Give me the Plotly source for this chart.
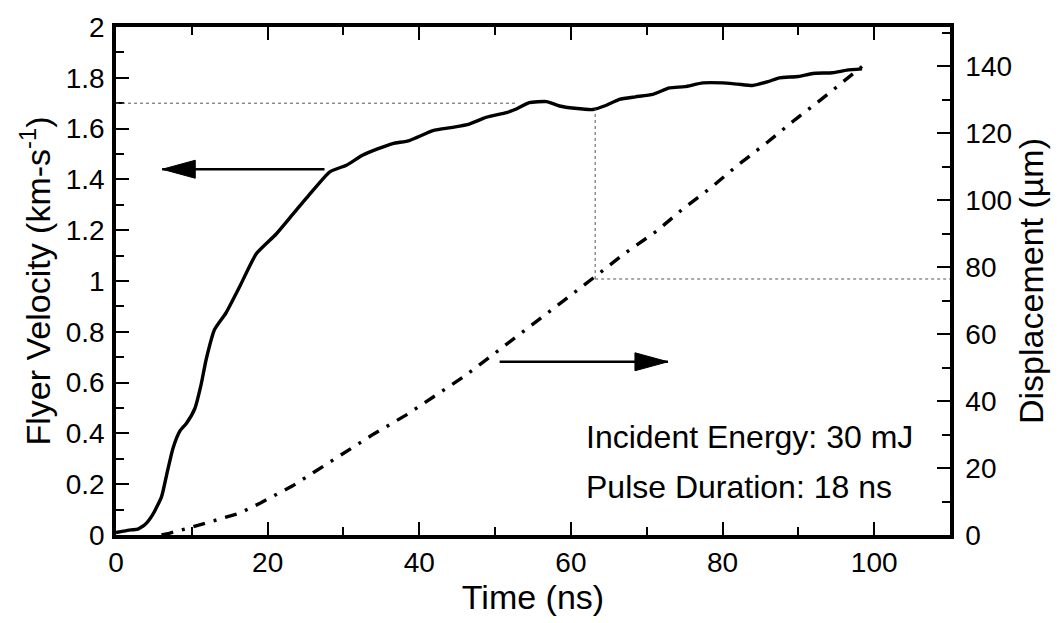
import numpy as np
import plotly.graph_objects as go

# ---------------- data ----------------
vel_t = [0, 1, 2, 2.7, 3.1, 3.8, 4.8, 6.0, 6.7, 7.5, 8.4, 9.3, 10.4, 11.2, 11.9,
         13.0, 14.5, 16.3, 18.5, 21.1, 23.3, 25.5, 28.2, 30.4, 32.5, 34.5, 36.5,
         38.7, 41.8, 44.4, 46.6, 48.8, 51.5, 52.8, 54.5, 56.8, 58.5, 60.5, 62.9,
         64.5, 66.4, 68.5, 70.8, 73.0, 75.0, 77.4, 80.0, 82.0, 84.0, 86.0, 87.5,
         90.0, 91.9, 94.5, 96.4, 98.4]
vel_v = [0.01, 0.015, 0.02, 0.022, 0.027, 0.04, 0.078, 0.15, 0.24, 0.34, 0.408,
         0.44, 0.498, 0.589, 0.692, 0.809, 0.874, 0.977, 1.107, 1.184, 1.262,
         1.34, 1.43, 1.456, 1.495, 1.52, 1.541, 1.553, 1.592, 1.605, 1.618,
         1.644, 1.663, 1.677, 1.702, 1.706, 1.689, 1.68, 1.675, 1.69, 1.715,
         1.725, 1.735, 1.76, 1.765, 1.78, 1.78, 1.775, 1.77, 1.785, 1.80, 1.805,
         1.817, 1.82, 1.83, 1.835]

disp_t = [6.0, 7.0, 10.1, 13.0, 16.3, 19.0, 21.6, 23.3, 26.0, 30.4, 34.0, 38.3,
          42.0, 45.8, 49.5, 53.2, 57.0, 60.3, 63.4, 67.0, 71.3, 74.7, 78.6,
          82.0, 86.0, 89.5, 93.1, 96.8, 98.4]
disp_d = [0.0, 0.5, 2.4, 4.2, 6.5, 9.5, 12.8, 14.7, 18.6, 25.1, 30.2, 35.9,
          41.5, 47.2, 53.5, 59.9, 66.2, 72.2, 77.6, 84.0, 90.8, 97.3, 104.0,
          110.5, 117.5, 124.0, 130.3, 137.0, 140.0]

x_ticks = [0, 20, 40, 60, 80, 100]
y_ticks = [0, 0.2, 0.4, 0.6, 0.8, 1.0, 1.2, 1.4, 1.6, 1.8, 2.0]
y_ticktext = ["0", "0.2", "0.4", "0.6", "0.8", "1", "1.2", "1.4", "1.6", "1.8", "2"]
y2_ticks = [0, 20, 40, 60, 80, 100, 120, 140]

X_RANGE = [0, 110]
Y_RANGE = [0, 2]
Y2_RANGE = [0, 151.8]

# reference guide lines (dotted)
GUIDE_V = 1.70        # horizontal dotted level (velocity)
GUIDE_V_END = 52.8    # where the horizontal dotted line meets the curve
GUIDE_T = 63.2        # vertical dotted line time
GUIDE_D = 76.5        # horizontal dotted level (displacement)

# arrows: (tip time, tail time, level on velocity axis)
ARROW_LEFT = (6.1, 27.5, 1.44)
ARROW_RIGHT = (72.8, 50.6, 0.682)

FONT = "Liberation Sans, Arial, Helvetica, sans-serif"
TICK_SIZE = 28
TITLE_SIZE = 34
NOTE_SIZE = 32

fig = go.Figure()

fig.add_trace(go.Scatter(x=vel_t, y=vel_v, mode="lines",
                         line=dict(color="black", width=3.4, shape="spline",
                                   smoothing=0.5),
                         showlegend=False, yaxis="y"))
fig.add_trace(go.Scatter(x=disp_t, y=disp_d, mode="lines",
                         line=dict(color="black", width=3.4, dash="12px,9px,3px,9px"),
                         showlegend=False, yaxis="y2"))

shapes = []
# dotted guides
shapes.append(dict(type="line", xref="x", yref="y", x0=0, x1=GUIDE_V_END,
                   y0=GUIDE_V, y1=GUIDE_V, line=dict(color="#555", width=1, dash="dot")))
v_at = float(np.interp(GUIDE_T, vel_t, vel_v))
d_top = v_at * (Y2_RANGE[1] / Y_RANGE[1])
shapes.append(dict(type="line", xref="x", yref="y2", x0=GUIDE_T, x1=GUIDE_T,
                   y0=GUIDE_D, y1=d_top, line=dict(color="#555", width=1, dash="dot")))
shapes.append(dict(type="line", xref="x", yref="y2", x0=GUIDE_T, x1=X_RANGE[1],
                   y0=GUIDE_D, y1=GUIDE_D, line=dict(color="#555", width=1, dash="dot")))

# arrows: shaft + filled head (head drawn in pixels anchored at tip)
head_len, head_half = 33, 9
for tip, tail, lev in (ARROW_LEFT, ARROW_RIGHT):
    sgn = 1 if tail > tip else -1
    shapes.append(dict(type="line", xref="x", yref="y", x0=tip, x1=tail,
                       y0=lev, y1=lev, line=dict(color="black", width=2.5)))
    shapes.append(dict(type="path", xref="x", yref="y", xsizemode="pixel",
                       ysizemode="pixel", xanchor=tip, yanchor=lev,
                       path=f"M0,0 L{sgn*head_len},{-head_half} L{sgn*head_len},{head_half} Z",
                       fillcolor="black", line=dict(color="black", width=1)))

annotations = [
    dict(x=61.7, y=0.385, xref="x", yref="y", text="Incident Energy: 30 mJ",
         showarrow=False, xanchor="left", yanchor="middle",
         font=dict(family=FONT, size=NOTE_SIZE, color="black")),
    dict(x=61.7, y=0.19, xref="x", yref="y", text="Pulse Duration: 18 ns",
         showarrow=False, xanchor="left", yanchor="middle",
         font=dict(family=FONT, size=NOTE_SIZE, color="black")),
]

axis_common = dict(showgrid=False, zeroline=False, showline=True, linecolor="black",
                   linewidth=3.5, ticks="inside", ticklen=13, tickwidth=2,
                   tickcolor="black",
                   tickfont=dict(family=FONT, size=TICK_SIZE, color="black"))

fig.update_layout(
    width=1061, height=623,
    margin=dict(l=116, r=111, t=20, b=88),
    paper_bgcolor="white", plot_bgcolor="white",
    font=dict(family=FONT, color="black"),
    shapes=shapes, annotations=annotations,
    xaxis=dict(range=X_RANGE, tickvals=x_ticks, mirror="ticks",
               minor=dict(dtick=10, tick0=0, ticks="inside", ticklen=8,
                          tickwidth=1.5, tickcolor="black"),
               title=dict(text="Time (ns)", font=dict(family=FONT, size=TITLE_SIZE),
                          standoff=4),
               **axis_common),
    yaxis=dict(range=Y_RANGE, tickvals=y_ticks, ticktext=y_ticktext,
               ticklabelstandoff=2,
               minor=dict(dtick=0.1, tick0=0, ticks="inside", ticklen=8,
                          tickwidth=1.5, tickcolor="black"),
               title=dict(text="Flyer Velocity (km-s<sup>-1</sup>)",
                          font=dict(family=FONT, size=TITLE_SIZE), standoff=6),
               **axis_common),
    yaxis2=dict(range=Y2_RANGE, tickvals=y2_ticks, overlaying="y", side="right",
                ticklabelstandoff=6,
                minor=dict(dtick=10, tick0=0, ticks="inside", ticklen=8,
                           tickwidth=1.5, tickcolor="black"),
                title=dict(text="Displacement (µm)",
                           font=dict(family=FONT, size=TITLE_SIZE), standoff=0),
                **axis_common),
)

fig.write_html("out.html")
